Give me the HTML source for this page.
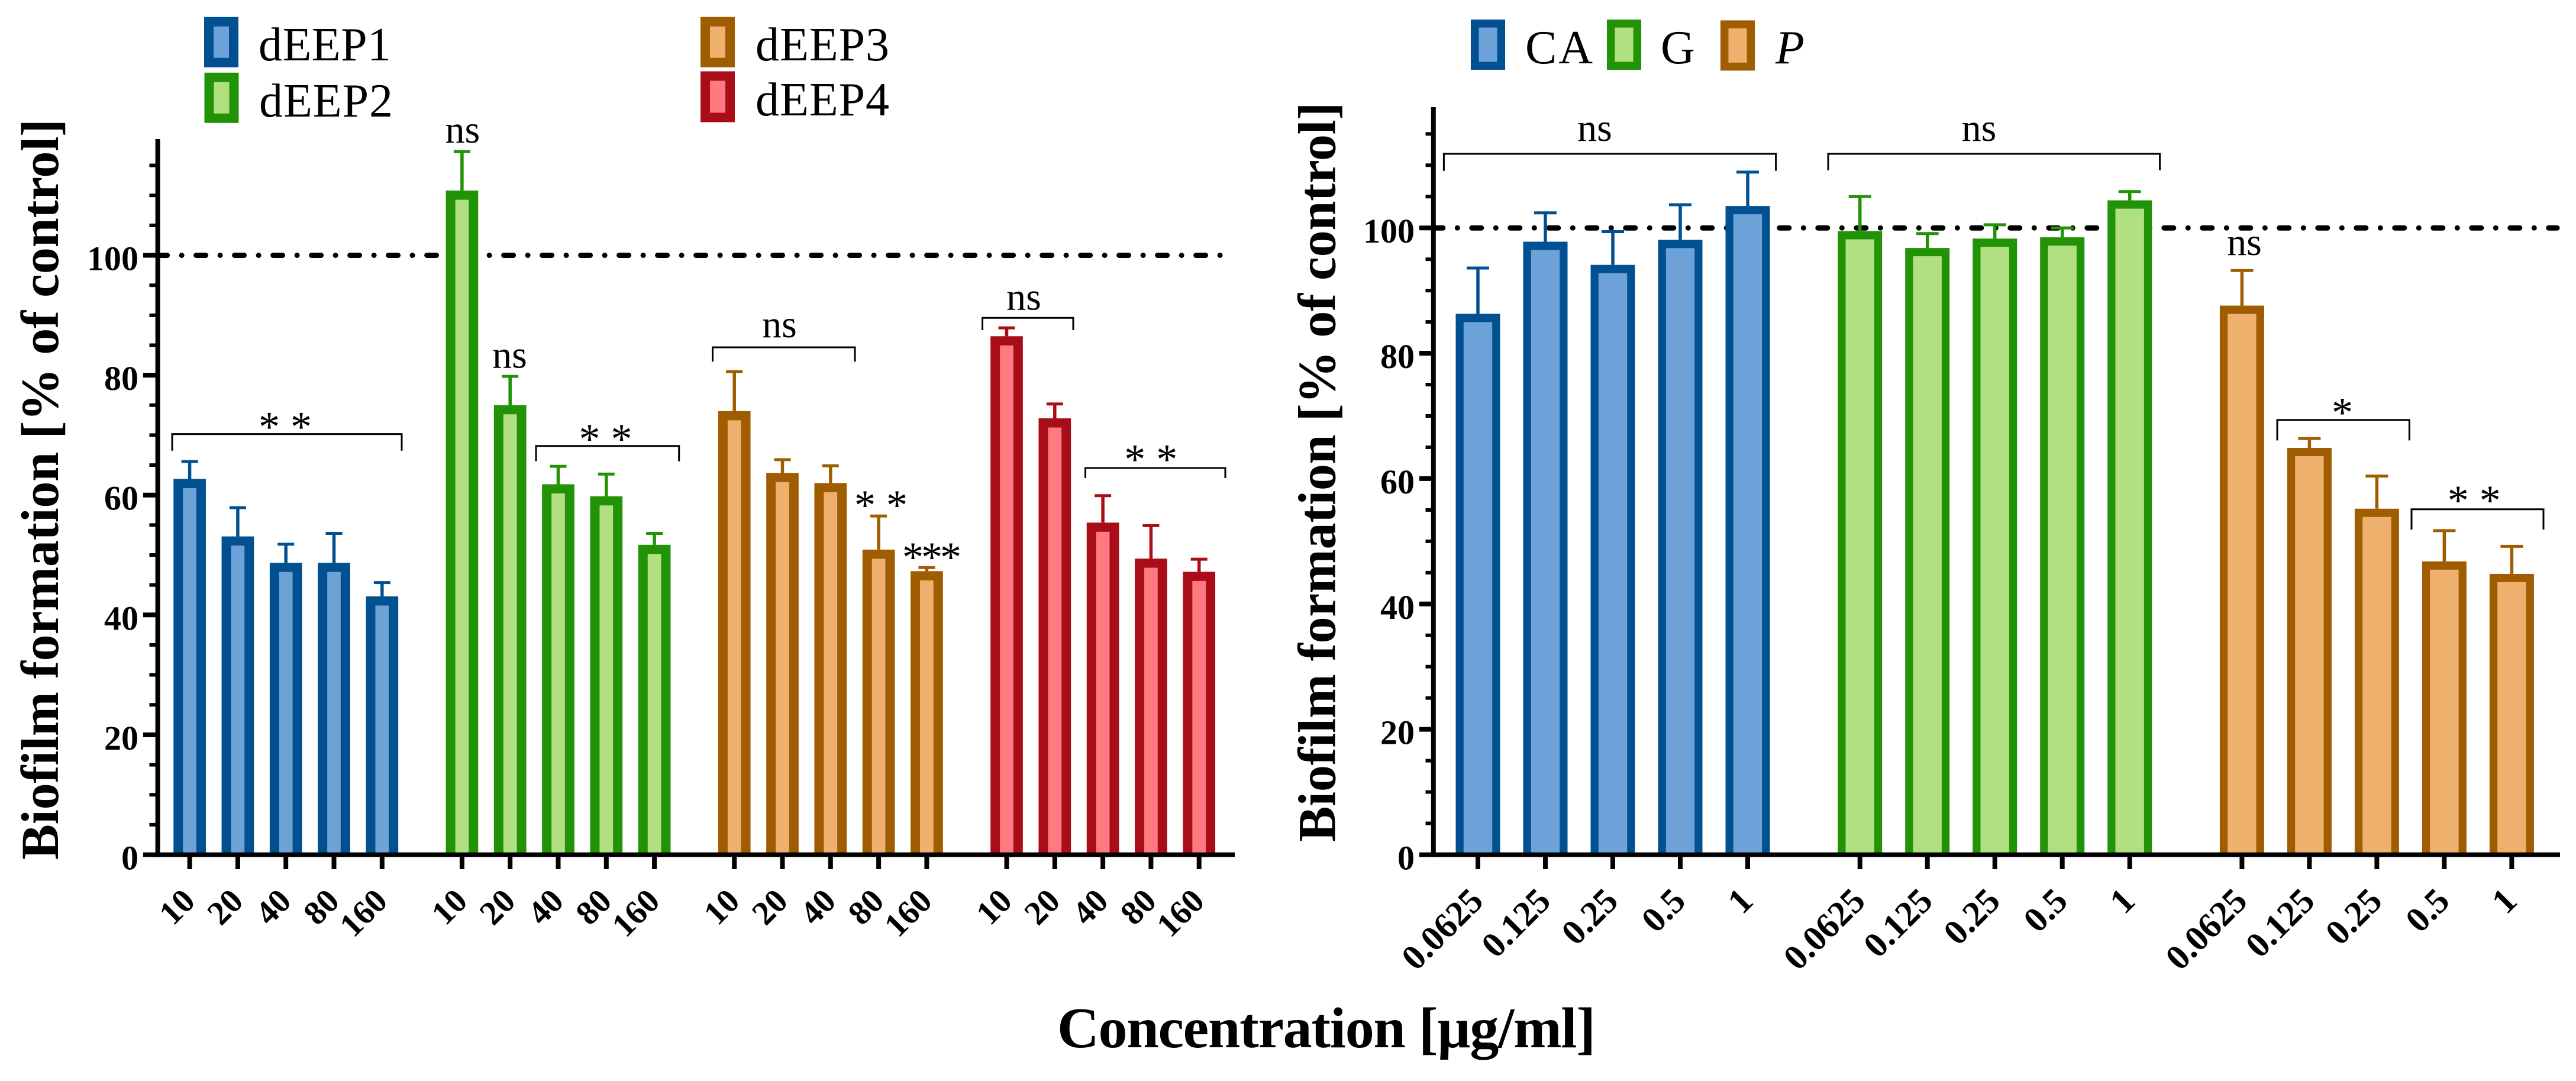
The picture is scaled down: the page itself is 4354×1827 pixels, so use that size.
<!DOCTYPE html>
<html lang="en">
<head>
<meta charset="utf-8">
<title>Biofilm formation charts</title>
<style>
html,body{margin:0;padding:0;background:#fff;}
svg{display:block;}
text{font-family:"Liberation Serif",serif;fill:#000;}
.ylab{font-size:58px;font-weight:bold;text-anchor:end;}
.xlab{font-weight:bold;text-anchor:end;}
.title{font-weight:bold;}
.leg{font-size:80px;}
.ns{font-size:66px;text-anchor:middle;}
.star{font-size:72px;text-anchor:middle;}
.br{fill:none;stroke:#000;stroke-width:3;}
</style>
</head>
<body>
<svg id="figure" xmlns="http://www.w3.org/2000/svg" width="4354" height="1827" viewBox="0 0 4354 1827">
  <rect width="4354" height="1827" fill="#ffffff"/>
  <g id="left-panel"></g>
  <g id="right-panel"></g>

  <text class="title" font-size="90" textLength="1252" lengthAdjust="spacing" transform="translate(98 1453) rotate(-90)">Biofilm formation [% of control]</text>
  <text class="title" font-size="90" textLength="1250" lengthAdjust="spacing" transform="translate(2256.6 1422.6) rotate(-90)">Biofilm formation [% of control]</text>
  <text class="title" font-size="98" x="1787" y="1770" textLength="910" lengthAdjust="spacing">Concentration [µg/ml]</text>

  <g>
    <g>
      <rect x="353" y="36.7" width="42" height="69" fill="#6DA2D8" stroke="#005092" stroke-width="16"/>
      <text class="leg" x="437" y="102" textLength="224">dEEP1</text>
    </g>
    <g>
      <rect x="353.5" y="130.8" width="42" height="69" fill="#B1E080" stroke="#229307" stroke-width="16"/>
      <text class="leg" x="438" y="197" textLength="226">dEEP2</text>
    </g>
    <g>
      <rect x="1192" y="36.7" width="42" height="69" fill="#EDB16D" stroke="#A05C00" stroke-width="16"/>
      <text class="leg" x="1277" y="102" textLength="226">dEEP3</text>
    </g>
    <g>
      <rect x="1192" y="128.5" width="42" height="70" fill="#FF7A80" stroke="#A90E18" stroke-width="16"/>
      <text class="leg" x="1277" y="195" textLength="226">dEEP4</text>
    </g>
  </g>

  <g>
    <g>
      <rect x="2492.7" y="39.8" width="44.6" height="71.4" fill="#6DA2D8" stroke="#005092" stroke-width="13.5"/>
      <text class="leg" x="2578" y="107" textLength="114">CA</text>
    </g>
    <g>
      <rect x="2722.7" y="39.8" width="44.6" height="71.4" fill="#B1E080" stroke="#229307" stroke-width="13.5"/>
      <text class="leg" x="2807" y="107" textLength="58">G</text>
    </g>
    <g>
      <rect x="2914.7" y="41.2" width="44.6" height="71.4" fill="#EDB16D" stroke="#A05C00" stroke-width="13.5"/>
      <text class="leg" x="3001" y="107" font-style="italic">P</text>
    </g>
  </g>

  <g>
    <path class="br" d="M291 761.7V733.6H679V761.7"/>
    <text class="star" x="482" y="745.7">* *</text>
    <text class="ns" x="781.8" y="241">ns</text>
    <text class="ns" x="861.5" y="621.6">ns</text>
    <path class="br" d="M906 779.5V753.7H1147.7V779.5"/>
    <text class="star" x="1023.5" y="766">* *</text>
    <path class="br" d="M1204.5 611.3V587H1445V611.3"/>
    <text class="ns" x="1317.5" y="570">ns</text>
    <text class="star" x="1489" y="878">* *</text>
    <text class="star" x="1573" y="966" letter-spacing="-4">***</text>
    <path class="br" d="M1660.5 558V537.3H1814V558"/>
    <text class="ns" x="1730.5" y="523.5">ns</text>
    <path class="br" d="M1834.5 808V791H2071V808"/>
    <text class="star" x="1945.2" y="800.7">* *</text>
  </g>

  <g>
    <path class="br" d="M2440.4 288.7V260H3001.6V288.7"/>
    <text class="ns" x="2695.5" y="238">ns</text>
    <path class="br" d="M3090 287.8V260H3650.6V287.8"/>
    <text class="ns" x="3345" y="237.8">ns</text>
    <text class="ns" x="3793.5" y="431">ns</text>
    <path class="br" d="M3849 744.4V709.7H4072.4V744.4"/>
    <text class="star" x="3959" y="721.7">*</text>
    <path class="br" d="M4076 895V860.7H4299V895"/>
    <text class="star" x="4181.7" y="870">* *</text>
  </g>
</svg>
<script>
// Chart data
const leftDoses = ["10", "20", "40", "80", "160"];
const rightDoses = ["0.0625", "0.125", "0.25", "0.5", "1"];
const yTickLabels = [0, 20, 40, 60, 80, 100];
const yMinorStep = 5;
const yMinorMax = 115;
const referenceLevel = 100;

const dEEP1Values = [62.7, 53.1, 48.7, 48.7, 43.1];
const dEEP1Upper = [65.6, 57.9, 51.8, 53.6, 45.4];
const dEEP2Values = [110.8, 75.0, 61.8, 59.8, 51.7];
const dEEP2Upper = [117.3, 79.8, 64.8, 63.5, 53.6];
const dEEP3Values = [74.0, 63.7, 62.0, 50.9, 47.3];
const dEEP3Upper = [80.6, 65.9, 64.9, 56.5, 47.9];
const dEEP4Values = [86.5, 72.8, 55.4, 49.4, 47.2];
const dEEP4Upper = [87.9, 75.2, 59.9, 54.9, 49.3];

const caValues = [86.3, 97.8, 94.1, 98.1, 103.5];
const caUpper = [93.6, 102.4, 99.4, 103.7, 108.9];
const gValues = [99.5, 96.8, 98.3, 98.5, 104.4];
const gUpper = [105.0, 99.1, 100.5, 100.0, 105.8];
const pValues = [87.6, 64.9, 55.2, 46.8, 44.8];
const pUpper = [93.2, 66.4, 60.4, 51.7, 49.2];

const BLUE = {edge: "#005092", fill: "#6DA2D8"};
const GREEN = {edge: "#229307", fill: "#B1E080"};
const BROWN = {edge: "#A05C00", fill: "#EDB16D"};
const RED = {edge: "#A90E18", fill: "#FF7A80"};

const SVG_NS = "http://www.w3.org/2000/svg";

function shape(tag, attrs, parent) {
  const el = document.createElementNS(SVG_NS, tag);
  for (const k in attrs) el.setAttribute(k, attrs[k]);
  parent.appendChild(el);
  return el;
}

function drawPanel(p) {
  const root = document.getElementById(p.rootId);
  const y = v => p.zeroY - v * p.unit;
  const x = (g, i) => p.firstX + g * p.groupStep + i * p.barStep;

  // reference line sits behind the bars
  const refLine = shape("line", {
    x1: p.axisX, x2: p.refEnd, y1: y(referenceLevel), y2: y(referenceLevel),
    stroke: "#000", "stroke-width": 9, "stroke-linecap": "round",
    "stroke-dasharray": "16 24.5 0.01 24.49"
  }, root);
  
  

  p.series.forEach((s, g) => {
    const group = shape("g", {}, root);
    
    
    s.values.forEach((v, i) => {
      const cx = x(g, i);
      const top = y(v);
      const left = cx - p.barWidth / 2;
      const outer = shape("rect", {
        x: left, y: top, width: p.barWidth, height: p.zeroY - top, fill: s.color.edge
      }, group);
      
      
      const inner = shape("rect", {
        x: left + p.edge, y: top + p.edgeTop, width: p.barWidth - 2 * p.edge,
        height: Math.max(0, p.zeroY - top - p.edgeTop), fill: s.color.fill
      }, group);
      
      
      const stem = shape("line", {
        x1: cx, x2: cx, y1: top, y2: y(s.upper[i]),
        stroke: s.color.edge, "stroke-width": 5.5
      }, group);
      
      
      const cap = shape("line", {
        x1: cx - p.capWidth / 2, x2: cx + p.capWidth / 2, y1: y(s.upper[i]), y2: y(s.upper[i]),
        stroke: s.color.edge, "stroke-width": 5
      }, group);
      
      

      const tick = shape("line", {
        x1: cx, x2: cx, y1: p.zeroY, y2: p.zeroY + 24.5, stroke: "#000", "stroke-width": 8
      }, root);
      
      
      const lab = shape("text", {
        class: "xlab", "font-size": p.xFont,
        transform: "translate(" + (cx + 12) + " 1526) rotate(-45)"
      }, root);
      lab.textContent = p.doses[i];
      
      
    });
  });

  // axes
  const yAxis = shape("line", {
    x1: p.axisX, x2: p.axisX, y1: p.axisTop, y2: p.zeroY + 3.8, stroke: "#000", "stroke-width": 8
  }, root);
  
  
  const xAxis = shape("line", {
    x1: p.majorLeft, x2: p.xEnd, y1: p.zeroY, y2: p.zeroY, stroke: "#000", "stroke-width": 7.7
  }, root);
  
  

  for (let v = yMinorStep; v <= yMinorMax; v += yMinorStep) {
    if (yTickLabels.includes(v)) continue;
    const minor = shape("line", {
      x1: p.minorLeft, x2: p.axisX, y1: y(v), y2: y(v), stroke: "#000", "stroke-width": 6
    }, root);
    
    
  }
  yTickLabels.forEach(v => {
    if (v !== 0) {
      const major = shape("line", {
        x1: p.majorLeft, x2: p.axisX, y1: y(v), y2: y(v), stroke: "#000", "stroke-width": 8
      }, root);
      
      
    }
    const lab = shape("text", {class: "ylab", x: p.yLabelRight, y: y(v) + 25}, root);
    lab.textContent = v;
    
    
  });
}

drawPanel({
  rootId: "left-panel", doses: leftDoses, zeroY: 1444.5, unit: 10.13,
  firstX: 320.6, groupStep: 460.3, barStep: 81.3, barWidth: 54.7, edge: 16, edgeTop: 15.5, capWidth: 28,
  axisX: 266.6, axisTop: 235, majorLeft: 242, minorLeft: 252.5, xEnd: 2087, refEnd: 2066.6,
  yLabelRight: 234, xFont: 57,
  series: [
    {name: "deep1", color: BLUE, values: dEEP1Values, upper: dEEP1Upper},
    {name: "deep2", color: GREEN, values: dEEP2Values, upper: dEEP2Upper},
    {name: "deep3", color: BROWN, values: dEEP3Values, upper: dEEP3Upper},
    {name: "deep4", color: RED, values: dEEP4Values, upper: dEEP4Upper}
  ]
});

drawPanel({
  rootId: "right-panel", doses: rightDoses, zeroY: 1444.5, unit: 10.593,
  firstX: 2498, groupStep: 645.7, barStep: 114, barWidth: 75, edge: 13.3, edgeTop: 14, capWidth: 38,
  axisX: 2422.8, axisTop: 181, majorLeft: 2399, minorLeft: 2409.5, xEnd: 4327, refEnd: 4322,
  yLabelRight: 2391, xFont: 60,
  series: [
    {name: "ca", color: BLUE, values: caValues, upper: caUpper},
    {name: "g", color: GREEN, values: gValues, upper: gUpper},
    {name: "p", color: BROWN, values: pValues, upper: pUpper}
  ]
});
</script>
</body>
</html>
